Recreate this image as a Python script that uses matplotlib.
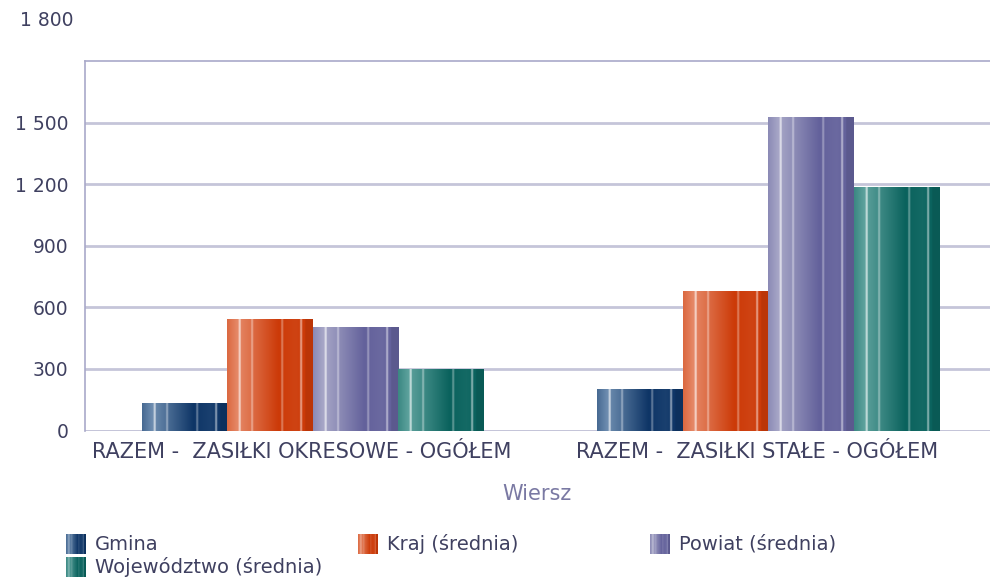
import numpy as np
import matplotlib
matplotlib.use('Agg')
import matplotlib.pyplot as plt
from matplotlib.colors import to_rgb
from matplotlib.transforms import ScaledTranslation

# dane
categories = ['RAZEM -  ZASIŁKI OKRESOWE - OGÓŁEM', 'RAZEM -  ZASIŁKI STAŁE - OGÓŁEM']
series = ['Gmina', 'Kraj (średnia)', 'Powiat (średnia)', 'Województwo (średnia)']
gmina = [134, 202]
kraj = [544, 680]
powiat = [505, 1529]
wojewodztwo = [300, 1188]
yticks = [0, 300, 600, 900, 1200, 1500]

values = [gmina, kraj, powiat, wojewodztwo]
light = ['#7f9dbd', '#ea9678', '#b3b3cf', '#6cada8']
dark = ['#0e3566', '#cc3a08', '#63619b', '#0a625d']
text_col = '#3f4060'

plt.rcParams['font.family'] = ['DejaVu Sans']


def stripe_colors(c_light, c_dark, n=200):
    """pasek koloru z jasnymi liniami (efekt 'cylindra')"""
    t = np.linspace(0, 1, n)
    m = np.interp(t, [0, 0.12, 0.6, 0.8, 1.0], [0.5, 0.15, 1.0, 0.9, 1.08])
    lo, hi = np.array(to_rgb(c_light)), np.array(to_rgb(c_dark))
    col = lo + (hi - lo) * np.clip(m, 0, 1)[:, None]
    col = col * np.where(m > 1, 0.92, 1.0)[:, None]
    for pos, w in [(0.145, 0.6), (0.29, 0.35), (0.645, 0.3), (0.865, 0.45)]:
        idx = np.abs(t - pos) < 0.012
        col[idx] = col[idx] + (1 - col[idx]) * w
    return np.clip(col, 0, 1)[None, :, :]


fig = plt.figure(figsize=(9.9, 5.78), dpi=100)
ax = fig.add_axes([85 / 990, 1 - 430.5 / 578, (996 - 85) / 990, (430.5 - 61) / 578])

x = np.arange(len(categories))
w = 0.1877
for i, vals in enumerate(values):
    bars = ax.bar(x + (i - 1.5) * w, vals, width=w, color=dark[i], zorder=2)
    img = stripe_colors(light[i], dark[i])
    for b in bars:
        x0, h = b.get_x(), b.get_height()
        ax.imshow(img, extent=(x0, x0 + b.get_width(), 0, h), aspect='auto',
                  zorder=3, interpolation='bilinear')

ax.set_xlim(-0.5, 1.5)
ax.set_ylim(0, 1800)
ax.set_yticks(yticks)
ax.set_yticklabels([f'{v:,}'.replace(',', ' ') for v in yticks])
ax.grid(axis='y', color='#c5c5d9', linewidth=2, zorder=1)
ax.axhline(0, color='#c5c5d9', linewidth=2, zorder=1)
ax.set_axisbelow(True)
for s in ['right', 'bottom']:
    ax.spines[s].set_visible(False)
for s in ['left', 'top']:
    ax.spines[s].set_color('#a9a9c9')
    ax.spines[s].set_linewidth(1.2)
ax.tick_params(axis='y', length=0, labelsize=13.5, colors=text_col, pad=12)
ax.tick_params(axis='x', length=0, labelsize=15, colors=text_col, pad=8)
ax.set_xticks(x)
ax.set_xticklabels(categories)
off = ScaledTranslation(-11 / 100, 0, fig.dpi_scale_trans)
for lbl in ax.get_xticklabels():
    lbl.set_transform(lbl.get_transform() + off)

# etykieta 1 800 wyzej niz linia
ax.annotate('1 800', xy=(0, 1800), xycoords=('axes fraction', 'data'),
            xytext=(-12, 41), textcoords='offset pixels', ha='right', va='center',
            fontsize=13.5, color=text_col)

ax.set_xlabel('Wiersz', fontsize=15, color='#7a79a3')
ax.xaxis.set_label_coords(452 / 911, -54 / 369.5)

# legenda
leg_pos = [(66, 544), (358, 544), (650, 544), (66, 567)]
for i, name in enumerate(series):
    lx, ly = leg_pos[i]
    iax = fig.add_axes([lx / 990, 1 - (ly + 10) / 578, 20 / 990, 20 / 578])
    iax.imshow(stripe_colors(light[i], dark[i]), aspect='auto', interpolation='bilinear')
    iax.axis('off')
    fig.text((lx + 29) / 990, 1 - ly / 578, name, fontsize=14, color=text_col, va='center')

plt.savefig('out.png', dpi=100)
